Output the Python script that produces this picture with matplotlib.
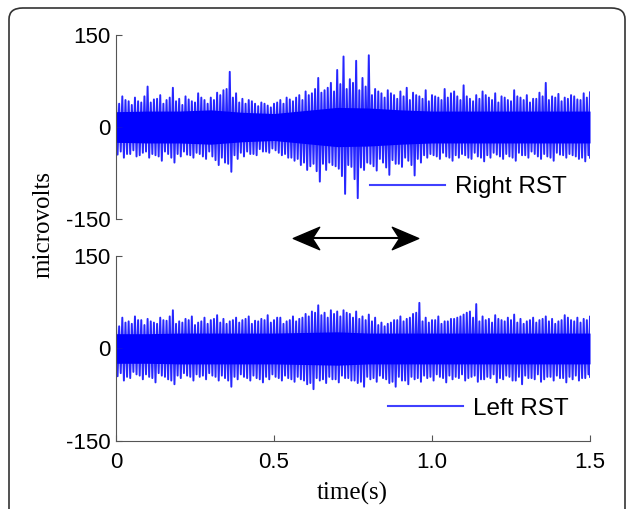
import numpy as np
import matplotlib.pyplot as plt
from matplotlib.patches import FancyBboxPatch
from matplotlib.path import Path
from matplotlib.lines import Line2D

# tempo (s) dos picos, passo de 0.02 s
t = np.round(np.arange(0, 1.5001, 0.02), 2)

# picos positivos / negativos do sinal direito (microvolts)
right_hi = [45, 50, 42, 48, 40, 66, 45, 52, 44, 64, 46, 50, 42, 55, 44, 48, 56, 60, 90, 55,
            46, 44, 38, 40, 35, 38, 44, 48, 42, 52, 58, 55, 80, 60, 72, 93, 115, 78, 108, 80,
            117, 62, 55, 60, 52, 58, 64, 56, 50, 60, 52, 48, 62, 55, 50, 68, 46, 52, 58, 48,
            55, 50, 44, 60, 48, 52, 46, 56, 72, 50, 54, 48, 52, 45, 55, 57]
right_lo = [-45, -50, -44, -48, -42, -50, -46, -55, -44, -58, -48, -45, -50, -44, -52, -48, -62, -58, -73, -52,
            -48, -44, -46, -40, -42, -38, -46, -50, -55, -62, -70, -60, -89, -70, -62, -68, -109, -65, -116, -70,
            -60, -71, -58, -78, -60, -65, -55, -79, -58, -50, -46, -52, -48, -55, -50, -46, -52, -48, -56, -50,
            -45, -52, -48, -55, -46, -50, -44, -52, -48, -55, -45, -50, -46, -52, -56, -50]
# picos secundarios, entre os anteriores (t + 0.01 s)
right_hi_mid = [38, 44, 36, 42, 50, 40, 46, 38, 48, 42, 36, 45, 40, 48, 38, 44, 52, 62, 48, 40,
                38, 42, 34, 38, 32, 40, 38, 45, 48, 44, 52, 62, 56, 64, 58, 70, 62, 72, 60, 66,
                52, 58, 48, 55, 46, 50, 44, 52, 46, 42, 50, 44, 48, 58, 44, 50, 42, 46, 52, 44,
                40, 48, 42, 50, 44, 40, 46, 50, 44, 48, 42, 46, 50, 44, 48]
right_lo_mid = [-40, -44, -38, -46, -40, -44, -48, -40, -50, -44, -40, -46, -42, -48, -40, -54, -50, -60, -46, -42,
                -40, -44, -36, -40, -35, -42, -44, -50, -52, -58, -64, -72, -60, -58, -64, -80, -62, -85, -66, -58,
                -64, -52, -66, -54, -60, -50, -62, -52, -46, -44, -48, -42, -50, -46, -44, -50, -42, -50, -46, -42,
                -48, -44, -50, -42, -46, -40, -48, -44, -50, -42, -46, -44, -48, -50, -46]

# picos do sinal esquerdo
left_hi = [40, 50, 44, 52, 46, 48, 42, 50, 45, 62, 44, 48, 52, 42, 50, 46, 54, 48, 44, 50,
           46, 52, 45, 48, 54, 46, 50, 44, 52, 48, 56, 60, 70, 58, 62, 60, 62, 56, 60, 52,
           55, 50, 42, 40, 46, 52, 48, 56, 74, 50, 46, 52, 44, 48, 50, 55, 60, 72, 52, 48,
           54, 46, 50, 55, 48, 44, 50, 46, 52, 48, 44, 54, 46, 50, 48, 52]
left_lo = [-45, -52, -48, -42, -50, -46, -55, -44, -50, -58, -48, -44, -52, -46, -50, -44, -52, -48, -62, -50,
           -46, -52, -48, -55, -50, -46, -52, -48, -54, -50, -58, -66, -52, -56, -50, -55, -48, -52, -56, -62,
           -50, -54, -48, -56, -62, -52, -58, -50, -54, -48, -52, -46, -55, -50, -48, -52, -46, -54, -50, -48,
           -55, -50, -46, -52, -58, -48, -50, -54, -46, -52, -48, -55, -50, -52, -48, -46]
left_hi_mid = [36, 42, 40, 46, 38, 44, 40, 46, 52, 40, 42, 46, 38, 44, 40, 48, 42, 40, 46, 42,
               48, 40, 44, 46, 42, 50, 40, 46, 44, 50, 52, 58, 54, 50, 56, 52, 58, 50, 48, 46,
               44, 38, 36, 42, 46, 44, 50, 58, 44, 42, 46, 40, 44, 48, 52, 58, 50, 44, 46, 42,
               48, 44, 46, 42, 40, 46, 42, 48, 44, 40, 46, 50, 44, 42, 46]
left_lo_mid = [-40, -46, -38, -44, -42, -48, -40, -46, -52, -44, -40, -46, -42, -44, -40, -46, -44, -52, -46, -42,
               -48, -44, -50, -46, -42, -48, -44, -50, -46, -52, -56, -48, -50, -46, -50, -44, -48, -52, -54, -46,
               -48, -44, -50, -54, -46, -52, -46, -48, -44, -46, -42, -48, -44, -46, -42, -48, -44, -50, -46, -42,
               -48, -44, -52, -46, -44, -48, -42, -50, -46, -44, -48, -46, -44, -48, -42]

# nucleo denso do sinal (amplitude), passo de 0.1 s
t_core = np.round(np.arange(0, 1.5001, 0.1), 1)
right_core = [25, 26, 26, 28, 24, 22, 27, 32, 31, 28, 26, 26, 26, 26, 26, 26]
left_core = [24, 24, 25, 25, 25, 25, 26, 27, 25, 25, 25, 25, 25, 25, 25, 25]

panels = [("Right RST", right_hi, right_lo, right_hi_mid, right_lo_mid, right_core),
          ("Left RST", left_hi, left_lo, left_hi_mid, left_lo_mid, left_core)]

blue = '#0000ff'
axis_gray = '#555555'


def zigzag(hi, lo, hi_mid, lo_mid):
    # junta os picos na ordem do tempo: hi, lo, hi_mid, lo_mid
    t0 = t[:-1]
    tt = np.column_stack([t0, t0 + 0.005, t0 + 0.01, t0 + 0.015]).ravel()
    vv = np.column_stack([hi[:-1], lo[:-1], hi_mid, lo_mid]).ravel()
    tt = np.append(tt, [t[-1], t[-1]])
    vv = np.append(vv, [hi[-1], lo[-1]])
    return tt, vv


fig = plt.figure(figsize=(6.27, 5.09), dpi=100)

# moldura arredondada
frame = FancyBboxPatch((9 / 627, -0.05), 616 / 627, 1 - 8 / 509 + 0.05,
                       boxstyle='round,pad=0,rounding_size=0.022',
                       transform=fig.transFigure, fill=False,
                       edgecolor='#333333', linewidth=1.2)
fig.patches.append(frame)

ax_top = fig.add_axes([0.185, 0.5697, 0.756, 0.3615])
ax_bot = fig.add_axes([0.185, 0.1336, 0.756, 0.3635])

legend_pos = [(0.536, 0.174), (0.574, 0.173)]

for ax, (name, hi, lo, hm, lm, core), lpos in zip([ax_top, ax_bot], panels, legend_pos):
    core = np.array(core)
    ax.fill_between(t_core, -core, core, color=blue, linewidth=0)
    tt, vv = zigzag(np.array(hi), np.array(lo), np.array(hm), np.array(lm))
    ax.plot(tt, vv, color=blue, linewidth=1.4, alpha=0.85, label=name)
    ax.set_xlim(0, 1.5)
    ax.set_ylim(-150, 150)
    ax.set_yticks([-150, 0, 150])
    ax.set_yticklabels(['-150', '0', '150'])
    for s in ['top', 'right']:
        ax.spines[s].set_visible(False)
    ax.spines['left'].set_color(axis_gray)
    ax.spines['bottom'].set_color(axis_gray)
    ax.tick_params(direction='in', length=4, color=axis_gray, labelsize=16,
                   pad=4)
    leg = ax.legend(loc='center left', bbox_to_anchor=lpos, frameon=False,
                    fontsize=17.5, handlelength=3.1, handletextpad=0.4,
                    borderpad=0, borderaxespad=0)
    for h in leg.legend_handles:
        h.set_linewidth(1.5)
        h.set_alpha(1)
        h.set_color('#4040ff')

ax_top.spines['bottom'].set_visible(False)
ax_top.set_xticks([])

ax_bot.set_xticks([0, 0.5, 1.0, 1.5])
ax_bot.set_xticklabels(['0', '0.5', '1.0', '1.5'])
ax_bot.tick_params(axis='x', pad=8)

for ax in [ax_top, ax_bot]:
    for lab in ax.get_xticklabels() + ax.get_yticklabels():
        lab.set_family('Liberation Sans')
    for txt in ax.get_legend().get_texts():
        txt.set_family('Liberation Sans')

# seta dupla entre os paineis (pontas tipo "stealth")
ay = 1 - 238 / 509
fig.add_artist(Line2D([296 / 627, 415 / 627], [ay, ay], transform=fig.transFigure,
                      color='black', linewidth=1.5))
head = Path([(1, 0), (-1, 0.85), (-0.45, 0), (-1, -0.85), (1, 0)],
            [Path.MOVETO, Path.LINETO, Path.LINETO, Path.LINETO, Path.CLOSEPOLY])
head_left = head.transformed(plt.matplotlib.transforms.Affine2D().scale(-1, 1))
fig.add_artist(Line2D([306 / 627], [ay], transform=fig.transFigure, marker=head_left,
                      markersize=19, color='black', linestyle='none'))
fig.add_artist(Line2D([405 / 627], [ay], transform=fig.transFigure, marker=head,
                      markersize=19, color='black', linestyle='none'))

fig.text(0.069, 1 - 224 / 509, 'microvolts', rotation=90, ha='center', va='center',
         family='Liberation Serif', fontsize=18)
fig.text(352 / 627, 1 - 493 / 509, 'time(s)', ha='center', va='center',
         family='Liberation Serif', fontsize=18)

fig.savefig('out.png', dpi=100)
